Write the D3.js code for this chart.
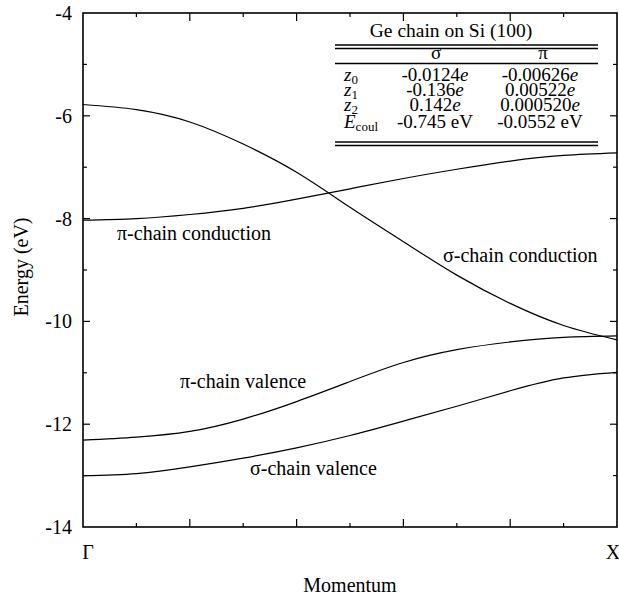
<!DOCTYPE html>
<html>
<head>
<meta charset="utf-8">
<script src="https://cdn.jsdelivr.net/npm/d3@7"></script>
<style>
	body { margin: 0; background: #fff; }
</style>
</head>
<body>
<div id="chart"></div>
<script>
// momentum sample positions (fraction of Gamma -> X)
const momentum = [0, 0.1, 0.2, 0.3, 0.4, 0.5, 0.6, 0.7, 0.8, 0.9, 1.0];

// band energies (eV)
const sigmaConduction = [-5.78, -5.88, -6.12, -6.55, -7.10, -7.78, -8.45, -9.10, -9.65, -10.08, -10.36];
const piConduction = [-8.03, -8.00, -7.92, -7.80, -7.62, -7.42, -7.22, -7.04, -6.88, -6.77, -6.72];
const piValence = [-12.31, -12.25, -12.14, -11.90, -11.56, -11.17, -10.80, -10.55, -10.40, -10.31, -10.28];
const sigmaValence = [-13.00, -12.96, -12.83, -12.66, -12.46, -12.22, -11.94, -11.65, -11.35, -11.10, -10.99];

const bandNames = ['σ-chain conduction', 'π-chain conduction', 'π-chain valence', 'σ-chain valence'];

// axis tick labels
const yTicks = [-4, -6, -8, -10, -12, -14];
const xTickLabels = [{ v: 0, t: 'Γ' }, { v: 1, t: 'X' }];

// inset table
const tableTitle = 'Ge chain on Si (100)';
const tableCols = ['σ', 'π'];
const tableSigma = ['-0.0124', '-0.136', '0.142', '-0.745 eV'];
const tablePi = ['-0.00626', '0.00522', '0.000520', '-0.0552 eV'];

(() => {
	const W = 619;
	const H = 601;
	const plot = { left: 83, right: 617, top: 13, bottom: 527 };
	const serif = '"Liberation Serif", "Times New Roman", Times, "DejaVu Serif", serif';

	const svg = d3.select('#chart').append('svg')
		.attr('width', W)
		.attr('height', H)
		.attr('font-family', serif)
		.style('font-family', serif);

	const x = d3.scaleLinear().domain([0, 1]).range([plot.left, plot.right]);
	const y = d3.scaleLinear().domain([-14, -4]).range([plot.bottom, plot.top]);

	// ticks (inward) on all four sides
	const xMinor = d3.range(1, 10).map(i => i / 10);
	const yAll = d3.range(-13, -4);
	const ticks = svg.append('g').style('stroke', '#000').style('stroke-width', 1.2);
	xMinor.forEach((v, i) => {
		const len = (i % 2 === 1) ? 8 : 4;
		ticks.append('line')
			.attr('x1', x(v)).attr('x2', x(v))
			.attr('y1', plot.bottom).attr('y2', plot.bottom - len);
		ticks.append('line')
			.attr('x1', x(v)).attr('x2', x(v))
			.attr('y1', plot.top).attr('y2', plot.top + len);
	});
	yAll.forEach(v => {
		const len = (v % 2 === 0) ? 7 : 4;
		ticks.append('line')
			.attr('x1', plot.left).attr('x2', plot.left + len)
			.attr('y1', y(v)).attr('y2', y(v));
		ticks.append('line')
			.attr('x1', plot.right).attr('x2', plot.right - len)
			.attr('y1', y(v)).attr('y2', y(v));
	});

	// frame
	svg.append('rect')
		.attr('x', plot.left).attr('y', plot.top)
		.attr('width', plot.right - plot.left)
		.attr('height', plot.bottom - plot.top)
		.style('fill', 'none')
		.style('stroke', '#000')
		.style('stroke-width', 1.6);

	// y tick labels
	svg.append('g').selectAll('text')
		.data(yTicks)
		.join('text')
		.attr('x', 72)
		.attr('y', d => y(d))
		.attr('dy', '0.35em')
		.style('font-size', '20px')
		.style('text-anchor', 'end')
		.text(d => d);

	// x tick labels
	svg.append('g').selectAll('text')
		.data(xTickLabels)
		.join('text')
		.attr('x', d => x(d.v) + (d.v === 0 ? 5 : -4))
		.attr('y', 559)
		.style('font-size', '20px')
		.style('text-anchor', 'middle')
		.text(d => d.t);

	// axis titles
	svg.append('text')
		.attr('x', (plot.left + plot.right) / 2)
		.attr('y', 592)
		.style('font-size', '20px')
		.style('text-anchor', 'middle')
		.text('Momentum');
	svg.append('text')
		.attr('transform', 'translate(28, 267) rotate(-90)')
		.style('font-size', '20px')
		.style('text-anchor', 'middle')
		.text('Energy (eV)');

	// bands
	const line = d3.line()
		.x((d, i) => x(momentum[i]))
		.y(d => y(d))
		.curve(d3.curveNatural);

	const bands = [sigmaConduction, piConduction, piValence, sigmaValence];
	svg.append('g').selectAll('path')
		.data(bands)
		.join('path')
		.attr('d', d => line(d))
		.style('fill', 'none')
		.style('stroke', '#000')
		.style('stroke-width', 1.2);

	// band labels
	const labelPos = [
		{ x: 443, y: 262 },
		{ x: 117, y: 240 },
		{ x: 180, y: 388 },
		{ x: 250, y: 475 }
	];
	svg.append('g').selectAll('text')
		.data(bandNames)
		.join('text')
		.attr('x', (d, i) => labelPos[i].x)
		.attr('y', (d, i) => labelPos[i].y)
		.style('font-size', '20px')
		.text(d => d);

	// inset table
	const tbl = svg.append('g');
	const tL = 335;
	const tR = 598;
	const rule = (yy) => tbl.append('line')
		.attr('x1', tL).attr('x2', tR)
		.attr('y1', yy).attr('y2', yy)
		.style('stroke', '#000').style('stroke-width', 1.3);

	tbl.append('text')
		.attr('x', 451).attr('y', 37)
		.style('font-size', '19.5px')
		.style('text-anchor', 'middle')
		.text(tableTitle);
	rule(45); rule(48.5);
	const colX = [436, 543];
	tbl.selectAll('.hdr')
		.data(tableCols)
		.join('text')
		.attr('class', 'hdr')
		.attr('x', (d, i) => colX[i])
		.attr('y', 59)
		.style('font-size', '19px')
		.style('text-anchor', 'middle')
		.text(d => d);
	rule(63.5);

	const rowY = [81, 96, 111, 128];
	const rowLabel = tbl.selectAll('.rl')
		.data(rowY)
		.join('text')
		.attr('class', 'rl')
		.attr('x', 344)
		.attr('y', d => d)
		.style('font-size', '19px');
	rowLabel.each(function(d, i) {
		const t = d3.select(this);
		if (i < 3) {
			t.append('tspan').style('font-style', 'italic').text('z');
			t.append('tspan').attr('dy', 3).style('font-size', '13px').text(i);
		} else {
			t.append('tspan').style('font-style', 'italic').text('E');
			t.append('tspan').attr('dy', 3).style('font-size', '13px').text('coul');
		}
	});

	const valueCell = (vals, cx) => {
		tbl.append('g').selectAll('text')
			.data(vals)
			.join('text')
			.attr('x', cx)
			.attr('y', (d, i) => rowY[i])
			.style('font-size', '19px')
			.style('text-anchor', 'middle')
			.each(function(d) {
				const t = d3.select(this);
				if (d.indexOf('eV') >= 0) {
					t.text(d);
				} else {
					t.append('tspan').text(d);
					t.append('tspan').style('font-style', 'italic').text('e');
				}
			});
	};
	valueCell(tableSigma, 435);
	valueCell(tablePi, 540);

	rule(142); rule(145.5);
})();
</script>
</body>
</html>
